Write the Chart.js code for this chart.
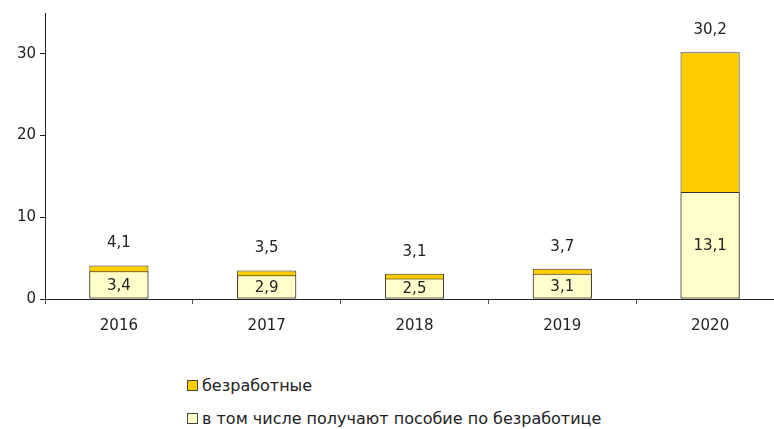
<!DOCTYPE html>
<html>
<head>
<meta charset="utf-8">
<script src="https://cdn.jsdelivr.net/npm/chart.js@4"></script>
<style>
  html, body { margin: 0; padding: 0; background: #fff; overflow: hidden; width: 774px; height: 429px; }
  #wrap { position: relative; width: 786px; height: 429px; }
  #chart { position: absolute; left: 0; top: 0; }
  .legend { position: absolute; left: 187px; font-family: "DejaVu Sans", sans-serif; font-size: 16px; color: #222; }
  .legend div { position: absolute; white-space: nowrap; line-height: 20px; }
  .legend span.box { display: inline-block; width: 9px; height: 9px; border: 1px solid #444; margin-right: 4px; vertical-align: 0px; }
</style>
</head>
<body>
<div id="wrap">
  <canvas id="chart" width="786" height="340"></canvas>
  <div class="legend">
    <div style="top:376px"><span class="box" style="background:#ffcc00"></span>безработные</div>
    <div style="top:409px"><span class="box" style="background:#ffffcc"></span>в том числе получают пособие по безработице</div>
  </div>
</div>
<script>
// данные
const anos = ['2016', '2017', '2018', '2019', '2020'];
const desempleados = [4.1, 3.5, 3.1, 3.7, 30.2];
const conSubsidio = [3.4, 2.9, 2.5, 3.1, 13.1];
const ticksY = [0, 10, 20, 30];

const amarillo = '#ffcc00';
const amarilloClaro = '#ffffcc';
const borde = '#333333';
const fuente = '"DejaVu Sans", sans-serif';

const fmt = v => v.toFixed(1).replace('.', ',');

// etiquetas de valores sobre/dentro de las barras
const etiquetas = {
  id: 'etiquetas',
  afterDatasetsDraw(chart) {
    const ctx = chart.ctx;
    ctx.save();
    ctx.font = '15px ' + fuente;
    ctx.fillStyle = '#222';
    ctx.textAlign = 'center';
    ctx.textBaseline = 'middle';
    const total = chart.getDatasetMeta(0);
    total.data.forEach((bar, i) => {
      ctx.fillText(fmt(desempleados[i]), bar.x, bar.y - 22);
    });
    const parte = chart.getDatasetMeta(1);
    parte.data.forEach((bar, i) => {
      ctx.fillText(fmt(conSubsidio[i]), bar.x, (bar.y + bar.base) / 2 + 1);
    });
    ctx.restore();
  }
};

new Chart(document.getElementById('chart'), {
  type: 'bar',
  data: {
    labels: anos,
    datasets: [
      {
        label: 'безработные',
        data: desempleados,
        backgroundColor: amarillo,
        borderColor: borde,
        borderWidth: 1,
        borderSkipped: false,
        order: 1
      },
      {
        label: 'в том числе получают пособие по безработице',
        data: conSubsidio,
        backgroundColor: amarilloClaro,
        borderColor: borde,
        borderWidth: 1,
        borderSkipped: false,
        order: 0
      }
    ]
  },
  options: {
    responsive: false,
    animation: false,
    grouped: false,
    barPercentage: 0.4,
    categoryPercentage: 1,
    layout: { padding: { top: 13, right: 2, left: 0, bottom: 0 } },
    plugins: {
      legend: { display: false },
      tooltip: { enabled: false }
    },
    scales: {
      x: {
        grid: { display: true, drawOnChartArea: false, tickLength: 5, color: '#555', offset: true },
        border: { color: '#222', width: 1 },
        ticks: { color: '#222', font: { family: fuente, size: 15 }, padding: 13 },
        afterFit: s => { s.height = 41; }
      },
      y: {
        min: 0,
        max: 35,
        grid: { display: true, drawOnChartArea: false, tickLength: 5, color: '#222' },
        border: { color: '#222', width: 1 },
        ticks: { stepSize: 10, color: '#222', font: { family: fuente, size: 15 }, padding: 4 },
        afterBuildTicks: s => { s.ticks = ticksY.map(v => ({ value: v })); },
        afterFit: s => { s.width = 45; }
      }
    }
  },
  plugins: [etiquetas]
});
</script>
</body>
</html>
